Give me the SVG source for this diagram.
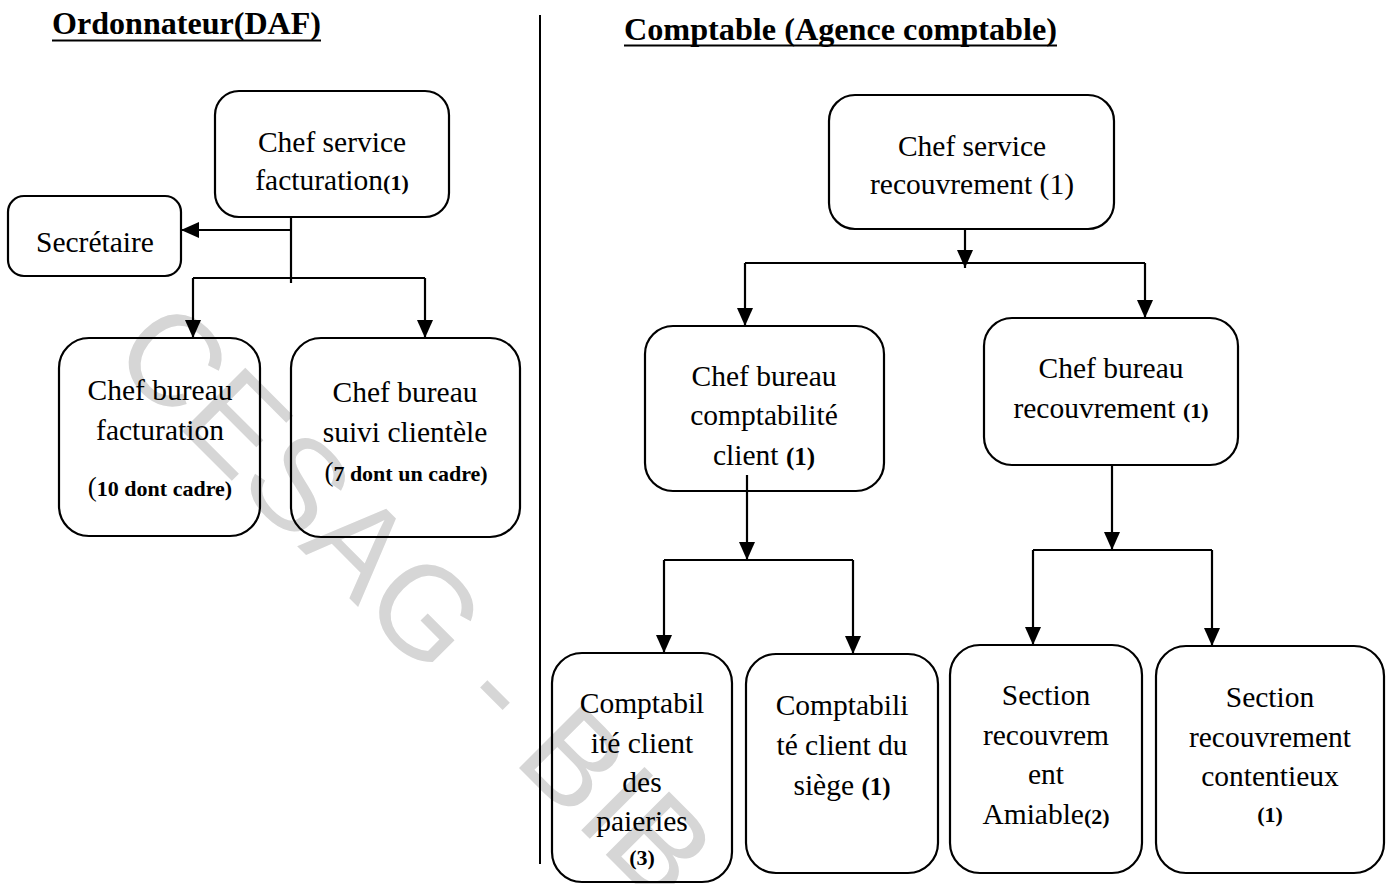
<svg xmlns="http://www.w3.org/2000/svg" width="1389" height="884" viewBox="0 0 1389 884">
  <style>
    .box { fill: none; stroke: #000; stroke-width: 2.2; }
    .lbl { font-family: "Liberation Serif", "Times New Roman", serif; font-size: 29.5px; fill: #000; text-anchor: middle; }
    .cnt { font-weight: bold; font-size: 22px; }
    .cnt2 { font-weight: bold; font-size: 25px; }
    .ttl { font-family: "Liberation Serif", "Times New Roman", serif; font-size: 31px; font-weight: bold; fill: #000; }
    .wire { fill: none; stroke: #000; stroke-width: 2.2; }
    .wm { font-family: "Liberation Sans", Arial, sans-serif; font-size: 130px; fill: #d6d6d6; }
  </style>
  <defs>
    <marker id="arrow" viewBox="0 0 18 16" refX="18" refY="8" markerWidth="18" markerHeight="16" markerUnits="userSpaceOnUse" orient="auto">
      <path d="M0,0 L18,8 L0,16 z" fill="#000"/>
    </marker>
  </defs>
  <rect width="1389" height="884" fill="#fff"/>

  <!-- watermark -->
  <text class="wm" transform="translate(108,357) rotate(45)">CESAG - BIB</text>

  <!-- section titles and divider -->
  <g id="titles">
    <text class="ttl" x="52" y="34" textLength="269" lengthAdjust="spacingAndGlyphs">Ordonnateur(DAF)</text>
    <line x1="52" y1="40.5" x2="321" y2="40.5" stroke="#000" stroke-width="2"/>
    <text class="ttl" x="624" y="40" textLength="433" lengthAdjust="spacingAndGlyphs">Comptable (Agence comptable)</text>
    <line x1="624" y1="45.5" x2="1057" y2="45.5" stroke="#000" stroke-width="2"/>
    <line x1="540" y1="15" x2="540" y2="864" stroke="#000" stroke-width="2"/>
  </g>

  <!-- connectors -->
  <g id="connectors">
    <path class="wire" d="M291,217 V283"/>
    <path class="wire" d="M291,230 H181" marker-end="url(#arrow)"/>
    <path class="wire" d="M193,278 H425"/>
    <path class="wire" d="M193,278 V338" marker-end="url(#arrow)"/>
    <path class="wire" d="M425,278 V338" marker-end="url(#arrow)"/>

    <path class="wire" d="M965,229 V268" marker-end="url(#arrow)"/>
    <path class="wire" d="M745,263 H1145"/>
    <path class="wire" d="M745,263 V326" marker-end="url(#arrow)"/>
    <path class="wire" d="M1145,263 V318" marker-end="url(#arrow)"/>

    <path class="wire" d="M747,475 V560" marker-end="url(#arrow)"/>
    <path class="wire" d="M664,560 H853"/>
    <path class="wire" d="M664,560 V653" marker-end="url(#arrow)"/>
    <path class="wire" d="M853,560 V654" marker-end="url(#arrow)"/>

    <path class="wire" d="M1112,465 V550" marker-end="url(#arrow)"/>
    <path class="wire" d="M1033,550 H1212"/>
    <path class="wire" d="M1033,550 V645" marker-end="url(#arrow)"/>
    <path class="wire" d="M1212,550 V646" marker-end="url(#arrow)"/>
  </g>

  <!-- Ordonnateur side -->
  <g id="chef-service-facturation">
    <rect class="box" x="215" y="91" width="234" height="126" rx="24"/>
    <text class="lbl" x="332" y="152">Chef service</text>
    <text class="lbl" x="332" y="190">facturation<tspan class="cnt">(1)</tspan></text>
  </g>
  <g id="secretaire">
    <rect class="box" x="8" y="196" width="173" height="80" rx="16"/>
    <text class="lbl" x="95" y="252">Secrétaire</text>
  </g>
  <g id="chef-bureau-facturation">
    <rect class="box" x="59" y="338" width="201" height="198" rx="30"/>
    <text class="lbl" x="160" y="400">Chef bureau</text>
    <text class="lbl" x="160" y="440">facturation</text>
    <text class="lbl cnt" x="160" y="496"><tspan style="font-weight:normal;font-size:27px">(</tspan>10 dont cadre)</text>
  </g>
  <g id="chef-bureau-suivi-clientele">
    <rect class="box" x="291" y="338" width="229" height="199" rx="30"/>
    <text class="lbl" x="405" y="402">Chef bureau</text>
    <text class="lbl" x="405" y="442">suivi clientèle</text>
    <text class="lbl cnt" x="406" y="481"><tspan style="font-weight:normal;font-size:27px">(</tspan>7 dont un cadre)</text>
  </g>

  <!-- Comptable side -->
  <g id="chef-service-recouvrement">
    <rect class="box" x="829" y="95" width="285" height="134" rx="26"/>
    <text class="lbl" x="972" y="156">Chef service</text>
    <text class="lbl" x="972" y="194">recouvrement (1)</text>
  </g>
  <g id="chef-bureau-comptabilite-client">
    <rect class="box" x="645" y="326" width="239" height="165" rx="28"/>
    <text class="lbl" x="764" y="386">Chef bureau</text>
    <text class="lbl" x="764" y="425">comptabilité</text>
    <text class="lbl" x="764" y="465">client <tspan class="cnt2">(1)</tspan></text>
  </g>
  <g id="chef-bureau-recouvrement">
    <rect class="box" x="984" y="318" width="254" height="147" rx="28"/>
    <text class="lbl" x="1111" y="378">Chef bureau</text>
    <text class="lbl" x="1111" y="418">recouvrement <tspan class="cnt">(1)</tspan></text>
  </g>
  <g id="comptabilite-client-paieries">
    <rect class="box" x="552" y="653" width="180" height="229" rx="30"/>
    <text class="lbl" x="642" y="713">Comptabil</text>
    <text class="lbl" x="642" y="753">ité client</text>
    <text class="lbl" x="642" y="792">des</text>
    <text class="lbl" x="642" y="831">paieries</text>
    <text class="lbl cnt" x="642" y="865">(3)</text>
  </g>
  <g id="comptabilite-client-siege">
    <rect class="box" x="746" y="654" width="192" height="219" rx="30"/>
    <text class="lbl" x="842" y="715">Comptabili</text>
    <text class="lbl" x="842" y="755">té client du</text>
    <text class="lbl" x="842" y="795">siège <tspan class="cnt2">(1)</tspan></text>
  </g>
  <g id="section-recouvrement-amiable">
    <rect class="box" x="950" y="645" width="192" height="228" rx="30"/>
    <text class="lbl" x="1046" y="705">Section</text>
    <text class="lbl" x="1046" y="745">recouvrem</text>
    <text class="lbl" x="1046" y="784">ent</text>
    <text class="lbl" x="1046" y="824">Amiable<tspan class="cnt">(2)</tspan></text>
  </g>
  <g id="section-recouvrement-contentieux">
    <rect class="box" x="1156" y="646" width="228" height="227" rx="30"/>
    <text class="lbl" x="1270" y="707">Section</text>
    <text class="lbl" x="1270" y="747">recouvrement</text>
    <text class="lbl" x="1270" y="786">contentieux</text>
    <text class="lbl cnt" x="1270" y="822">(1)</text>
  </g>
</svg>
